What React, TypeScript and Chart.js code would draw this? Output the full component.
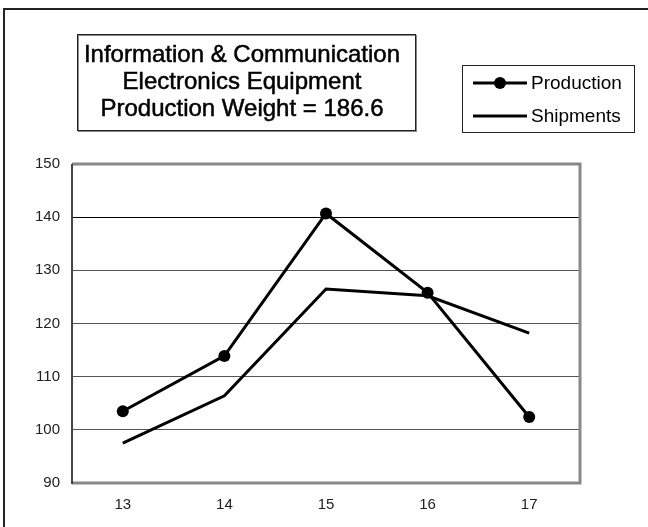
import React, { useEffect, useRef } from "react";
import { Chart, registerables } from "chart.js";

Chart.register(...registerables);

const categories = ["13", "14", "15", "16", "17"];
const production = [103.5, 113.9, 140.7, 125.8, 102.4];
const shipments = [97.5, 106.4, 126.5, 125.2, 118.2];
const yMin = 90;
const yMax = 150;
const yStep = 10;
const titleLines = [
  "Information & Communication",
  "Electronics Equipment",
  "Production Weight = 186.6",
];
const legendLabels = ["Production", "Shipments"];

const FONT = "'Liberation Sans', Arial, Helvetica, sans-serif";

const decorPlugin = {
  id: "decor",
  afterDraw(chart: any) {
    const ctx = chart.ctx as CanvasRenderingContext2D;
    const a = chart.chartArea;
    ctx.save();

    // outer frame (top & left visible)
    ctx.strokeStyle = "#222";
    ctx.lineWidth = 2;
    ctx.beginPath();
    ctx.moveTo(4, 527);
    ctx.lineTo(4, 9);
    ctx.lineTo(648, 9);
    ctx.stroke();

    // plot frame
    ctx.strokeStyle = "#888";
    ctx.lineWidth = 3;
    ctx.beginPath();
    ctx.moveTo(a.left, a.top);
    ctx.lineTo(a.right, a.top);
    ctx.lineTo(a.right, a.bottom);
    ctx.lineTo(a.left, a.bottom);
    ctx.stroke();
    ctx.strokeStyle = "#444";
    ctx.lineWidth = 2;
    ctx.beginPath();
    ctx.moveTo(a.left, a.top);
    ctx.lineTo(a.left, a.bottom + 1);
    ctx.stroke();

    // title box
    ctx.fillStyle = "#fff";
    ctx.fillRect(77, 34, 339, 97);
    ctx.strokeStyle = "#888";
    ctx.lineWidth = 1;
    ctx.strokeRect(78.5, 35.5, 338, 96);
    ctx.strokeStyle = "#222";
    ctx.strokeRect(77.5, 34.5, 338, 96);
    ctx.fillStyle = "#000";
    ctx.strokeStyle = "#000";
    ctx.lineWidth = 0.5;
    ctx.font = `24px ${FONT}`;
    ctx.textAlign = "center";
    ctx.textBaseline = "middle";
    titleLines.forEach((t, i) => {
      ctx.fillText(t, 242, 55 + i * 27);
      ctx.strokeText(t, 242, 55 + i * 27);
    });

    // legend box
    ctx.fillStyle = "#fff";
    ctx.fillRect(462, 65, 173, 68);
    ctx.strokeStyle = "#222";
    ctx.lineWidth = 1;
    ctx.strokeRect(462.5, 65.5, 172, 67);

    const rows = [83, 116];
    ctx.strokeStyle = "#000";
    ctx.lineWidth = 3;
    rows.forEach((y) => {
      ctx.beginPath();
      ctx.moveTo(473, y);
      ctx.lineTo(527, y);
      ctx.stroke();
    });
    ctx.fillStyle = "#000";
    ctx.beginPath();
    ctx.arc(500, rows[0], 6, 0, Math.PI * 2);
    ctx.fill();

    ctx.font = `19px ${FONT}`;
    ctx.textAlign = "left";
    ctx.textBaseline = "middle";
    legendLabels.forEach((l, i) => {
      ctx.fillText(l, 531, rows[i] + 1);
    });

    ctx.restore();
  },
};

export default function App() {
  const ref = useRef<HTMLCanvasElement | null>(null);

  useEffect(() => {
    document.body.style.margin = "0";
    if (!ref.current) return;
    const chart = new Chart(ref.current, {
      type: "line",
      data: {
        labels: categories,
        datasets: [
          {
            label: legendLabels[0],
            data: production,
            borderColor: "#000",
            backgroundColor: "#000",
            borderWidth: 3,
            pointRadius: 6,
            pointBackgroundColor: "#000",
            pointBorderWidth: 0,
            tension: 0,
          },
          {
            label: legendLabels[1],
            data: shipments,
            borderColor: "#000",
            backgroundColor: "#000",
            borderWidth: 3,
            pointRadius: 0,
            tension: 0,
          },
        ],
      },
      options: {
        animation: false,
        responsive: true,
        maintainAspectRatio: false,
        layout: { padding: { top: 164, right: 68, left: 0, bottom: 0 } },
        plugins: {
          legend: { display: false },
          title: { display: false },
          tooltip: { enabled: false },
        },
        scales: {
          x: {
            type: "category",
            offset: true,
            grid: { display: false, drawTicks: false },
            border: { display: false },
            ticks: {
              color: "#222",
              font: { family: FONT, size: 15 },
              padding: 13,
              maxRotation: 0,
            },
            afterFit(s: any) {
              s.height = 44;
            },
          },
          y: {
            min: yMin,
            max: yMax,
            grid: {
              drawTicks: false,
              color: (c: any) => (c.tick && c.tick.value === 140 ? "#000" : "#555"),
              lineWidth: 1,
            },
            border: { display: false },
            ticks: {
              stepSize: yStep,
              color: "#222",
              font: { family: FONT, size: 15 },
              padding: 12,
            },
            afterFit(s: any) {
              s.width = 72;
            },
          },
        },
      },
      plugins: [decorPlugin],
    });
    return () => chart.destroy();
  }, []);

  return (
    <div style={{ position: "relative", width: 648, height: 527 }}>
      <canvas ref={ref} />
    </div>
  );
}
